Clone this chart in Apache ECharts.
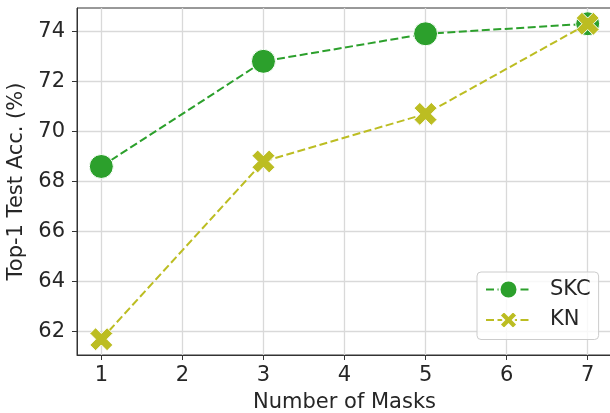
<!DOCTYPE html>
<html>
<head>
<meta charset="utf-8">
<script src="https://cdn.jsdelivr.net/npm/echarts@6/dist/echarts.min.js"></script>
<style>
html,body{margin:0;padding:0;background:#fff;}
#c{width:610px;height:413px;}
</style>
</head>
<body>
<div id="c"></div>
<script>
const masks = [1, 3, 5, 7];
const skc = [68.6, 72.8, 73.9, 74.3];
const kn = [61.7, 68.8, 70.7, 74.3];
const xTicks = [1, 2, 3, 4, 5, 6, 7];
const yTicks = [62, 64, 66, 68, 70, 72, 74];

const FONT = 'DejaVu Sans';
const TXT = '#262626';
const XPATH = 'path://M1,0L2,1L3,0L4,1L3,2L4,3L3,4L2,3L1,4L0,3L1,2L0,1Z';

const chart = echarts.init(document.getElementById('c'), null, {renderer: 'canvas'});
chart.setOption({
  animation: false,
  backgroundColor: '#fff',
  textStyle: {fontFamily: FONT, color: TXT},
  grid: {left: 77, top: 8, width: 535, height: 347, outerBoundsMode: 'none', containLabel: false,
         show: true, borderColor: '#333', borderWidth: 1, backgroundColor: 'transparent'},
  xAxis: {
    type: 'value', min: 0.7, max: 7.3,
    name: 'Number of Masks', nameLocation: 'middle', nameGap: 37,
    nameTextStyle: {fontFamily: FONT, fontSize: 21, color: TXT},
    axisLine: {show: true, lineStyle: {color: '#333', width: 1}},
    axisTick: {show: true, length: 5, lineStyle: {color: '#333', width: 1}, customValues: xTicks},
    axisLabel: {fontFamily: FONT, fontSize: 21, color: TXT, margin: 10, customValues: xTicks},
    splitLine: {show: true, lineStyle: {color: '#d9d9d9', width: 1.3}}
  },
  yAxis: {
    type: 'value', min: 61.07, max: 74.93,
    name: 'Top-1 Test Acc. (%)', nameLocation: 'middle', nameGap: 45,
    nameTextStyle: {fontFamily: FONT, fontSize: 21, color: TXT},
    axisLine: {show: true, lineStyle: {color: '#333', width: 1}},
    axisTick: {show: true, length: 5, lineStyle: {color: '#333', width: 1}, customValues: yTicks},
    axisLabel: {fontFamily: FONT, fontSize: 21, color: TXT, margin: 12, customValues: yTicks},
    splitLine: {show: true, lineStyle: {color: '#d9d9d9', width: 1.3}}
  },
  legend: {
    left: 477, top: 272,
    orient: 'vertical',
    padding: [7, 8, 9, 8],
    itemWidth: 45, itemHeight: 22.5, itemGap: 9.5,
    borderColor: '#cccccc', borderWidth: 1, borderRadius: 4,
    backgroundColor: 'rgba(255,255,255,0.8)',
    textStyle: {fontFamily: FONT, fontSize: 21, color: TXT, padding: [0, 0, 0, 14]},
    data: ['SKC', 'KN']
  },
  series: [
    {
      name: 'SKC', type: 'line',
      data: masks.map((m, i) => [m, skc[i]]),
      symbol: 'circle', symbolSize: 24,
      itemStyle: {color: '#2ca02c', borderColor: '#fff', borderWidth: 1},
      lineStyle: {color: '#2ca02c', width: 2, type: [8, 3.5]},
      z: 2
    },
    {
      name: 'KN', type: 'line',
      data: masks.map((m, i) => [m, kn[i]]),
      symbol: XPATH, symbolSize: 23,
      itemStyle: {color: '#bcbd22', borderColor: '#fff', borderWidth: 1},
      lineStyle: {color: '#bcbd22', width: 2, type: [8, 3.5]},
      z: 3
    }
  ]
});
</script>
</body>
</html>
